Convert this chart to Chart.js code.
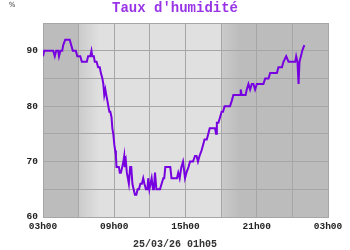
<!DOCTYPE html>
<html>
<head>
<meta charset="utf-8">
<script src="https://cdn.jsdelivr.net/npm/chart.js@4/dist/chart.umd.min.js"></script>
<style>
html,body{margin:0;padding:0;background:#fff;}
#wrap{width:350px;height:250px;position:relative;}
</style>
</head>
<body>
<div id="wrap"><canvas id="c" width="350" height="250"></canvas></div>
<script>
// Data (hours since 03h00 on the x axis, humidity % on the y axis)
const titleText = "Taux d'humidité";
const unitText = "%";
const footerText = "25/03/26 01h05";
const xTickLabels = ["03h00", "09h00", "15h00", "21h00", "03h00"];
const yTickLabels = ["60", "70", "80", "90"];
const hours = [
  0.00,0.10,0.86,0.99,1.11,1.28,1.35,1.47,1.62,1.70,1.87,2.25,2.38,2.51,2.76,2.89,3.14,3.27,3.69,3.80,
  3.98,4.08,4.15,4.28,4.36,4.51,4.64,4.78,4.87,5.00,5.08,5.16,5.25,5.33,5.42,5.50,5.59,5.67,5.77,5.84,
  5.92,6.01,6.08,6.14,6.19,6.39,6.47,6.56,6.67,6.77,6.84,6.89,6.98,7.06,7.15,7.23,7.34,7.43,7.53,7.63,
  7.74,7.86,7.97,8.08,8.20,8.33,8.44,8.54,8.67,8.79,8.86,8.96,9.05,9.15,9.26,9.34,9.43,9.55,9.85,9.99,
  10.13,10.21,10.30,10.72,10.82,11.28,11.39,11.51,11.65,11.79,11.87,11.96,12.08,12.25,12.38,12.63,12.80,12.93,13.05,13.18,
  13.35,13.48,13.60,13.79,13.92,14.04,14.15,14.32,14.49,14.57,14.64,14.77,14.91,15.04,15.16,15.29,15.75,15.90,16.03,16.59,
  16.65,16.73,17.06,17.16,17.30,17.44,17.58,17.72,17.86,18.01,18.56,18.71,18.99,19.13,19.70,19.83,20.12,20.25,20.48,20.68,
  21.24,21.32,21.43,21.52,21.60,21.72,21.83,22.01
];
const humidity = [
  89,90,90,89,90,90,89,90,90,91,92,92,91,90,90,89,89,88,88,89,
  89,90,89,89,88,88,87,87,86,85,84,82,83,82,81,80,79,79,78,76,
  75,73,72,71,69,69,68,68,69,70,71,69,70,68,67,66,69,69,66,65,
  64,64,65,65,66,66,67,66,65,65,67,65,66,67,65,65,68,65,65,66,
  67,67,69,69,67,67,68,67,69,70,70,67,68,69,70,70,71,71,70,71,
  72,73,74,74,75,76,76,76,76,75,77,77,78,79,79,80,80,81,82,82,
  83,82,82,83,84,83,84,84,83,84,84,85,85,86,86,87,87,88,89,88,
  88,89,88,84,88,89,90,91
];
// Background periods (hours since 03h00): night / dawn gradient / day / dusk gradient
const nightColor = "#bcbcbc";
const dayColor = "#e0e0e0";
const dawnStart = 3, dawnEnd = 4.8;
const duskStart = 15, duskEnd = 16.6;

const points = hours.map((h, i) => ({x: h, y: humidity[i]}));

const bgPlugin = {
  id: 'bg',
  beforeDraw(chart) {
    const {ctx, chartArea: a, scales: {x}} = chart;
    ctx.save();
    ctx.fillStyle = nightColor;
    ctx.fillRect(a.left, a.top, a.right - a.left, a.bottom - a.top);
    const x1 = x.getPixelForValue(dawnStart), x2 = x.getPixelForValue(dawnEnd);
    const x3 = x.getPixelForValue(duskStart), x4 = x.getPixelForValue(duskEnd);
    let g = ctx.createLinearGradient(x1, 0, x2, 0);
    g.addColorStop(0, "#cbcbcb"); g.addColorStop(1, dayColor);
    ctx.fillStyle = g; ctx.fillRect(x1, a.top, x2 - x1, a.bottom - a.top);
    ctx.fillStyle = dayColor; ctx.fillRect(x2, a.top, x3 - x2, a.bottom - a.top);
    g = ctx.createLinearGradient(x3, 0, x4, 0);
    g.addColorStop(0, "#cbcbcb"); g.addColorStop(1, nightColor);
    ctx.fillStyle = g; ctx.fillRect(x3, a.top, x4 - x3, a.bottom - a.top);
    ctx.restore();
  },
  afterDraw(chart) {
    const {ctx, width} = chart;
    ctx.save();
    ctx.textAlign = 'center';
    ctx.textBaseline = 'middle';
    ctx.fillStyle = '#9933e6';
    ctx.font = 'bold 14px "Liberation Mono", monospace';
    ctx.fillText(titleText, width / 2, 8);
    ctx.fillStyle = '#333';
    ctx.font = 'bold 10px "Liberation Mono", monospace';
    ctx.fillText(footerText, width / 2, 244);
    ctx.font = '7px "DejaVu Sans", sans-serif';
    ctx.fillText(unitText, 12, 5);
    ctx.restore();
  }
};

new Chart(document.getElementById('c'), {
  type: 'line',
  data: {
    datasets: [{
      data: points,
      borderColor: '#7700e0',
      borderWidth: 2,
      pointRadius: 0,
      tension: 0,
      fill: false
    }]
  },
  options: {
    responsive: false,
    devicePixelRatio: 1,
    animation: false,
    layout: {padding: {top: 23, right: 22, bottom: 0, left: 0}},
    plugins: {legend: {display: false}, tooltip: {enabled: false}, title: {display: false}},
    scales: {
      x: {
        type: 'linear', min: 0, max: 24,
        afterFit(s) { s.height = 33; },
        afterBuildTicks(s) { s.ticks = [0,3,6,9,12,15,18,21,24].map(v => ({value: v})); },
        grid: {color: '#a6a6a6', lineWidth: 1, drawTicks: false},
        border: {color: '#a6a6a6'},
        ticks: {
          padding: 4, maxRotation: 0, autoSkip: false,
          color: '#222', font: {family: '"Liberation Mono", monospace', size: 9.5, weight: 'bold'},
          callback: (v) => (v % 6 === 0 ? xTickLabels[v / 6] : '')
        }
      },
      y: {
        min: 60, max: 95,
        afterFit(s) { s.width = 43; },
        afterBuildTicks(s) { s.ticks = [60,65,70,75,80,85,90,95].map(v => ({value: v})); },
        grid: {color: '#a6a6a6', lineWidth: 1, drawTicks: false},
        border: {color: '#a6a6a6'},
        ticks: {
          padding: 5,
          color: '#222', font: {family: '"Liberation Mono", monospace', size: 9.5, weight: 'bold'},
          callback: (v) => (v % 10 === 0 ? yTickLabels[(v - 60) / 10] : '')
        }
      }
    }
  },
  plugins: [bgPlugin]
});
</script>
</body>
</html>
